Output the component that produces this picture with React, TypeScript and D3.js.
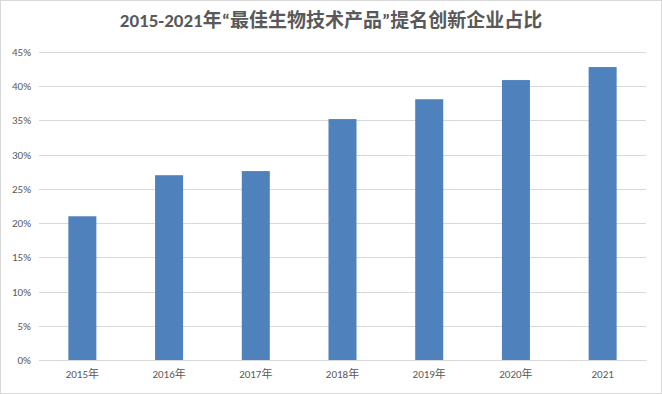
import React, { useEffect, useRef } from 'react';
import { axisBottom, axisLeft, scaleBand, scaleLinear, select } from 'd3';

const categories = ['2015年', '2016年', '2017年', '2018年', '2019年', '2020年', '2021'];
const shares = [21.0, 27.0, 27.6, 35.2, 38.1, 40.9, 42.8];
const yTicks = [0, 5, 10, 15, 20, 25, 30, 35, 40, 45];
const title = '2015-2021年“最佳生物技术产品”提名创新企业占比';

const W = 662;
const H = 394;
const margin = { top: 52, right: 16, bottom: 34, left: 39 };
const font = 'Calibri, Carlito, "Open Sans", "Noto Sans CJK SC", sans-serif';

const App: React.FC = () => {
  const svgRef = useRef<SVGSVGElement>(null);

  useEffect(() => {
    const svg = select(svgRef.current);
    const innerW = W - margin.left - margin.right;
    const innerH = H - margin.top - margin.bottom;

    const xScale = scaleBand<string>()
      .domain(categories)
      .range([0, innerW])
      .paddingInner(0.677)
      .paddingOuter(0.3385);
    const yScale = scaleLinear().domain([0, 45]).range([innerH, 0]);

    const g = svg.select<SVGGElement>('.plot').attr('transform', `translate(${margin.left},${margin.top})`);

    // gridlines
    g.selectAll('.grid')
      .data(yTicks)
      .join('line')
      .attr('class', 'grid')
      .attr('x1', 0)
      .attr('x2', innerW)
      .attr('y1', (d) => Math.round(yScale(d)) + 0.5)
      .attr('y2', (d) => Math.round(yScale(d)) + 0.5)
      .attr('stroke', '#d9d9d9')
      .attr('stroke-width', 1);

    // bars
    g.selectAll('.bar')
      .data(shares)
      .join('rect')
      .attr('class', 'bar')
      .attr('x', (_, i) => xScale(categories[i]) as number)
      .attr('width', xScale.bandwidth())
      .attr('y', (d) => yScale(d))
      .attr('height', (d) => innerH - yScale(d))
      .attr('fill', '#4f81bd');

    // axes
    const yAxis = axisLeft(yScale)
      .tickValues(yTicks)
      .tickSize(0)
      .tickPadding(8)
      .tickFormat((d) => `${d}%`);
    g.select<SVGGElement>('.y-axis').call(yAxis);
    g.select('.y-axis .domain').remove();

    const xAxis = axisBottom(xScale).tickSize(0).tickPadding(10);
    g.select<SVGGElement>('.x-axis').attr('transform', `translate(0,${innerH})`).call(xAxis);
    g.select('.x-axis .domain').attr('stroke', '#d9d9d9');

    g.selectAll('.tick text')
      .attr('fill', '#595959')
      .style('font-family', font)
      .style('font-size', '11px');
  }, []);

  return (
    <svg
      ref={svgRef}
      width={W}
      height={H}
      style={{ position: 'absolute', left: 0, top: 0, background: '#fff' }}
    >
      <rect x={0.5} y={0.5} width={W - 1} height={H - 1} fill="#fff" stroke="#d9d9d9" />
      <text
        x={W / 2}
        y={27}
        textAnchor="middle"
        fill="#595959"
        style={{ fontFamily: font, fontSize: '19px', fontWeight: 'bold' }}
      >
        {title}
      </text>
      <g className="plot">
        <g className="x-axis" />
        <g className="y-axis" />
      </g>
    </svg>
  );
};

export default App;
